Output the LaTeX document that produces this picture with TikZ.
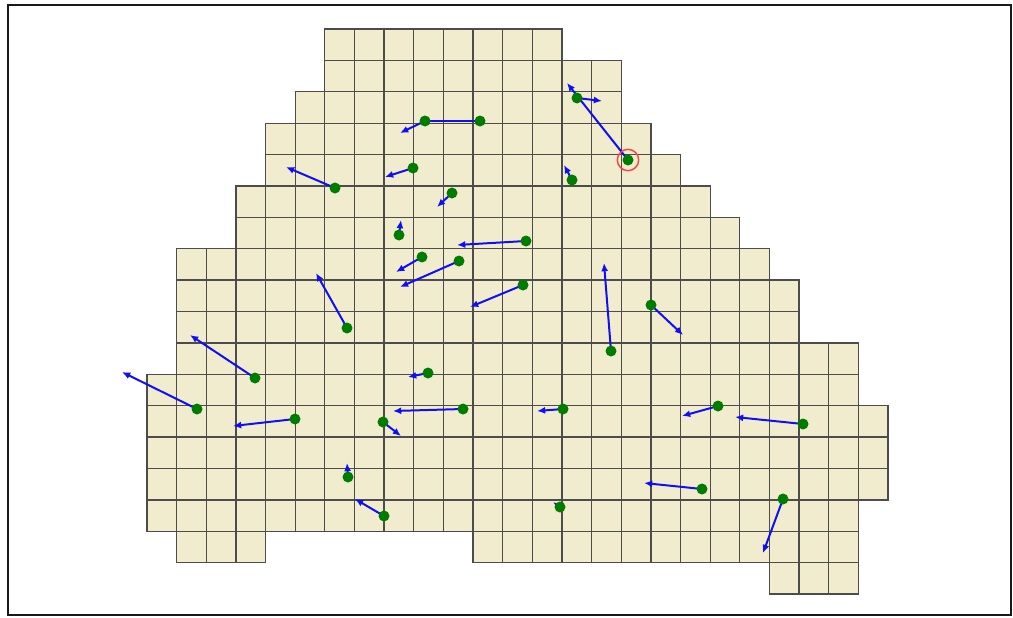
\documentclass[tikz,border=0pt]{standalone}
\usetikzlibrary{arrows.meta}

\definecolor{cellfill}{RGB}{242,236,207}
\definecolor{agentgreen}{RGB}{0,125,0}
\definecolor{vecblue}{RGB}{15,15,245}
\pgfdeclarelayer{front}
\pgfsetlayers{main,front}
\tikzset{
  cell/.style={fill=cellfill, draw=black!70, line width=1.1pt},
  agent/.style={circle, fill=agentgreen, inner sep=0pt, minimum size=0.33cm},
  vec/.style={vecblue, line width=1.7pt, -{Latex[length=7pt,width=6pt]}},
  picked/.style={circle, draw=red!75, line width=1.2pt, inner sep=0pt, minimum size=0.64cm}
}

\begin{document}
\begin{tikzpicture}[x=0.03cm, y=-0.03cm]
\useasboundingbox (0,0) rectangle (1013,617);
\fill[white] (0,0) rectangle (1013,617);
\draw[line width=2.4pt, black!90] (8,5) rectangle (1011,615);

% floor cells, one row at a time
\begin{scope}[shift={(147,29)}, x=0.8892cm, y=-0.9417cm]
\foreach \r/\a/\b in {0/6/13, 1/6/15, 2/5/15, 3/4/16, 4/4/17, 5/3/18, 6/3/19,
                      7/1/20, 8/1/21, 9/1/21, 10/1/23, 11/0/23, 12/0/24,
                      13/0/24, 14/0/24, 15/0/23, 16/1/3, 16/11/23, 17/21/23}
  \foreach \c in {\a,...,\b}
    \draw[cell] (\c,\r) rectangle ++(1,1);
\end{scope}

% agents and their velocity vectors
\foreach \i/\x/\y/\u/\v in {1/480/121/421/121, 2/425/121/400/133, 3/577/98/602/101,
    4/628/160/567/83, 5/335/188/286/167, 6/413/168/385/177, 7/452/193/437/207,
    8/572/180/564/165, 9/399/235/401/220, 10/526/241/457/245, 11/422/257/396/272,
    12/459/261/400/287, 13/523/285/470/307, 14/347/328/316/273, 15/611/351/604/263,
    16/651/305/683/335, 17/255/378/190/335, 18/428/373/408/377, 19/197/409/122/372,
    20/295/419/233/426, 21/463/409/393/411, 22/383/422/401/436, 23/348/477/347/463,
    24/384/516/355/499, 25/563/409/537/411, 26/718/406/682/416, 27/803/424/735/417,
    28/702/489/644/483, 29/560/507/553/502, 30/783/499/763/553}
{
  \begin{pgfonlayer}{front}
    \node[agent] (p\i) at (\x,\y) {};
  \end{pgfonlayer}
  \coordinate (t\i) at (\u,\v);
  \draw[vec] (p\i.center) -- (t\i);
}
\node[picked] (sel) at (p4) {};
\end{tikzpicture}
\end{document}
